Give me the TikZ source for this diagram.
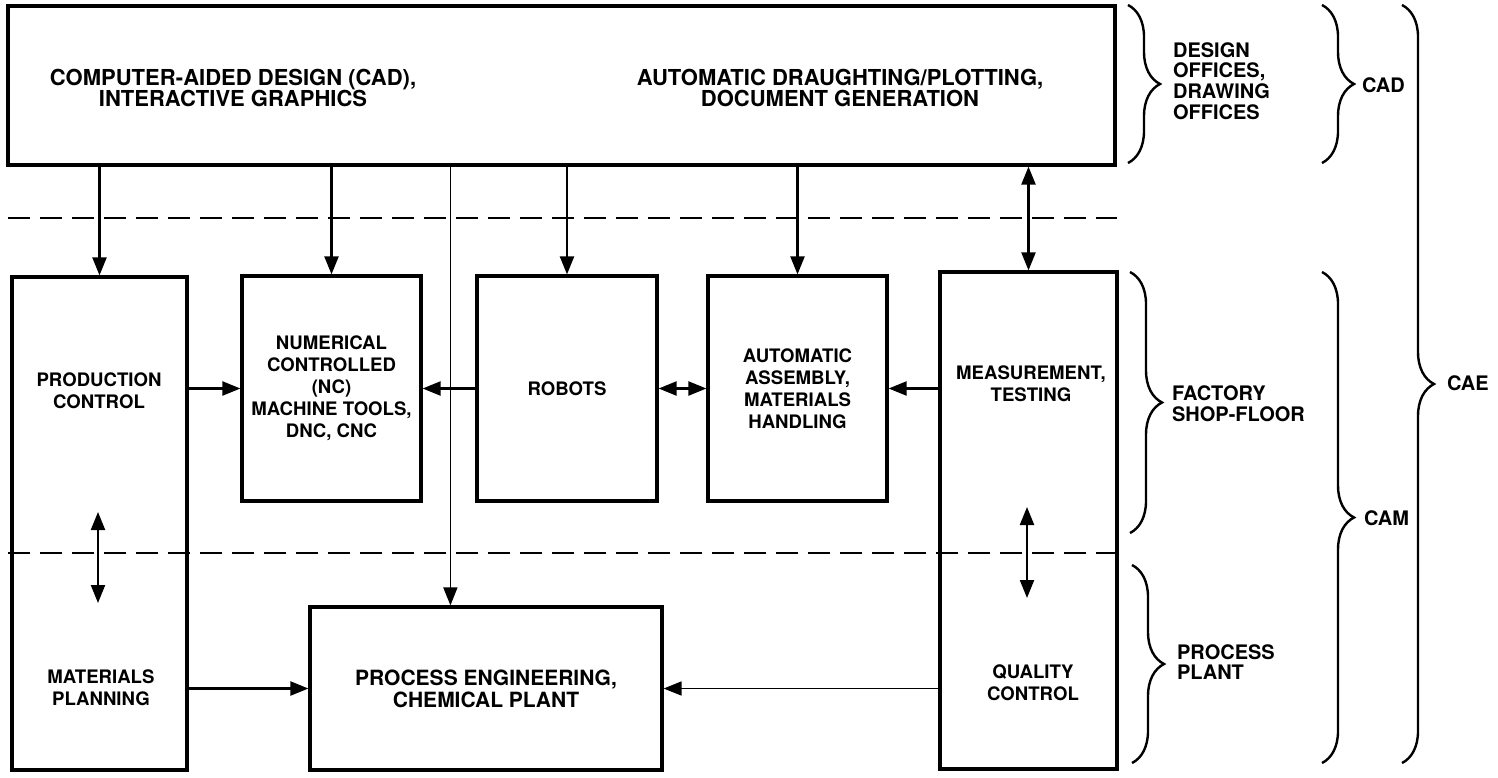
\documentclass[tikz,border=0pt]{standalone}
\usepackage{fontspec}
\setmainfont{TeX Gyre Heros}
\usetikzlibrary{positioning, arrows.meta, calc, decorations.pathreplacing}
\tikzset{
  blk/.style={
    draw, line width=1.6pt, inner sep=0pt,
    align=center, font=\fontsize{9.3}{11}\selectfont\bfseries
  },
  toptext/.style={align=center, font=\fontsize{11}{10.6}\selectfont\bfseries},
  boxtext/.style={align=center, font=\fontsize{9.3}{11}\selectfont\bfseries},
  sidetext/.style={anchor=west, align=left, font=\fontsize{10}{10.4}\selectfont\bfseries},
  arrow/.style={-{Triangle[length=9pt,width=7pt]}, line width=1.1pt},
  dblarrow/.style={{Triangle[length=9pt,width=7pt]}-{Triangle[length=9pt,width=7pt]}, line width=1.1pt},
  sepline/.style={line width=1pt, dash pattern=on 11pt off 5pt},
  curly/.style={decorate, decoration={brace, amplitude=16pt}, line width=1.2pt}
}

\begin{document}
\begin{tikzpicture}[x=0.5pt, y=-0.5pt]
\useasboundingbox (0,0) rectangle (1498,777);

%% ── CAD box ──────────────────────────────────────────────────
\node[blk, minimum width=553.5pt, minimum height=79.5pt] (cadbox) at (561.5,85.5) {};
\node[toptext] (cadtxt) at (233,88) {COMPUTER-AIDED DESIGN (CAD),\\INTERACTIVE GRAPHICS};
\node[toptext] (drafttxt) at (840,88) {AUTOMATIC DRAUGHTING/PLOTTING,\\DOCUMENT GENERATION};

%% ── Separators ───────────────────────────────────────────────
\draw[sepline] (8,218) -- (1117,218);
\draw[sepline] (8,553) -- (1117,553);

%% ── Shop-floor boxes ─────────────────────────────────────────
\node[blk, minimum width=87.5pt, minimum height=246.5pt] (prodbox) at (99.5,523.5) {};
\node[boxtext] (prodtxt) at (99,391) {PRODUCTION\\CONTROL};
\node[boxtext] (mattxt) at (101,688) {MATERIALS\\PLANNING};

\node[blk, minimum width=89.5pt, minimum height=112.5pt] (ncbox) at (331.5,388.5)
  {NUMERICAL\\CONTROLLED\\(NC)\\MACHINE TOOLS,\\DNC, CNC};
\node[blk, minimum width=90pt, minimum height=112.5pt] (robotbox) at (567,388.5) {ROBOTS};
\node[blk, minimum width=89.5pt, minimum height=112.5pt] (assybox) at (797.5,388.5)
  {AUTOMATIC\\ASSEMBLY,\\MATERIALS\\HANDLING};

\node[blk, minimum width=88.5pt, minimum height=248.5pt] (measbox) at (1028.5,520.5) {};
\node[boxtext] (meastxt) at (1031,384) {MEASUREMENT,\\TESTING};
\node[boxtext] (qualtxt) at (1033,683) {QUALITY\\CONTROL};

%% ── Process plant box ────────────────────────────────────────
\node[blk, minimum width=176pt, minimum height=81.5pt,
      font=\fontsize{10.5}{11}\selectfont\bfseries] (procbox) at (486,688.5)
  {PROCESS ENGINEERING,\\CHEMICAL PLANT};

%% ── Arrows from CAD ──────────────────────────────────────────
\coordinate (feed) at ([xshift=71pt]procbox.north west);
\draw[arrow] (cadbox.south -| prodbox.north) -- (prodbox.north);
\draw[arrow] (cadbox.south -| ncbox.north) -- (ncbox.north);
\draw[arrow, line width=0.8pt] (cadbox.south -| feed) -- (feed);
\draw[arrow] (cadbox.south -| robotbox.north) -- (robotbox.north);
\draw[arrow] (cadbox.south -| assybox.north) -- (assybox.north);
\draw[dblarrow] (cadbox.south -| measbox.north) -- (measbox.north);

%% ── Arrows between boxes ─────────────────────────────────────
\draw[arrow] (prodbox.east |- ncbox.west) -- (ncbox.west);
\draw[arrow] (robotbox.west) -- (ncbox.east);
\draw[dblarrow] (robotbox.east) -- (assybox.west);
\draw[arrow] (measbox.west |- assybox.east) -- (assybox.east);
\draw[arrow] (prodbox.east |- procbox.west) -- (procbox.west);
\draw[arrow, line width=0.8pt] (measbox.west |- procbox.east) -- (procbox.east);

%% ── Arrows across the lower line ─────────────────────────────
\coordinate (pctop) at (98,512);
\coordinate (pcbot) at (98,603);
\coordinate (mttop) at (1027,507);
\coordinate (mtbot) at (1027,598);
\draw[dblarrow] (pctop) -- (pcbot);
\draw[dblarrow] (mttop) -- (mtbot);

%% ── Braces ───────────────────────────────────────────────────
\draw[curly] (1128,5) -- (1128,163);
\node[sidetext] (design) at (1166,81) {DESIGN\\OFFICES,\\DRAWING\\OFFICES};
\draw[curly] (1130,272) -- (1130,533);
\node[sidetext] (factory) at (1165,404) {FACTORY\\SHOP-FLOOR};
\draw[curly] (1132,565) -- (1132,763);
\node[sidetext] (plant) at (1170,662) {PROCESS\\PLANT};

\draw[curly] (1322,5) -- (1322,163);
\node[sidetext] (cad) at (1355,85) {CAD};
\draw[curly] (1322,272) -- (1322,763);
\node[sidetext] (cam) at (1357,518) {CAM};
\draw[curly] (1402,5) -- (1402,763);
\node[sidetext] (cae) at (1440,383) {CAE};

\end{tikzpicture}
\end{document}
